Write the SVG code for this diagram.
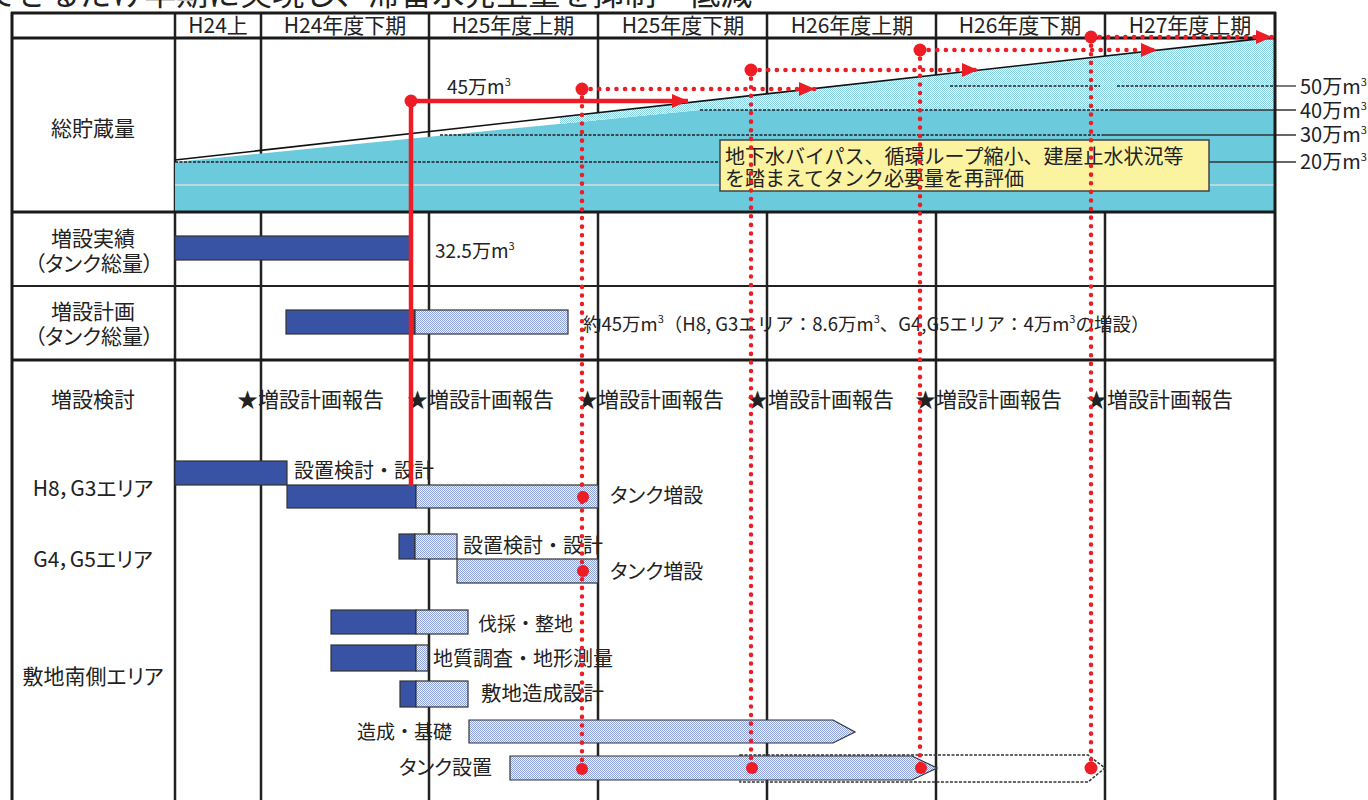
<svg xmlns="http://www.w3.org/2000/svg" width="1368" height="800" viewBox="0 0 1368 800">
<defs>
<pattern id="hatch" patternUnits="userSpaceOnUse" width="2" height="2">
<rect width="2" height="2" fill="#F0F3FA"/>
<rect width="1" height="1" fill="#8DA1D8"/>
<rect x="1" y="1" width="1" height="1" fill="#8DA1D8"/>
</pattern>
<pattern id="chatch" patternUnits="userSpaceOnUse" width="2" height="2">
<rect width="2" height="2" fill="#F2FBFD"/>
<rect width="1" height="1" fill="#86D2E2"/>
<rect x="1" y="1" width="1" height="1" fill="#86D2E2"/>
</pattern>
<marker id="arr" markerUnits="userSpaceOnUse" markerWidth="16" markerHeight="14" refX="16" refY="7" orient="auto" viewBox="0 0 16 14">
<path d="M0,0 L16,7 L0,14 z" fill="#EE1C25"/>
</marker>
<style>
text{font-family:"Noto Sans CJK JP","Noto Sans",sans-serif;fill:#222;}
.p{font-feature-settings:"palt";}
.hd{font-size:21px;text-anchor:middle;}
.lb{font-size:21px;text-anchor:middle;font-feature-settings:"palt";}
.t{font-size:20px;}
.st{font-size:21px;}
.s{font-size:19px;}
.r{font-size:20px;}
.sup{font-size:11px;}
.grid{stroke:#222;stroke-width:2.5;fill:none;}
.bd{stroke:#1a1a1a;stroke-width:3;fill:none;}
.dk{fill:#3953A4;stroke:#333;stroke-width:1.2;}
.ht{fill:url(#hatch);stroke:#333;stroke-width:1.2;}
.dash{stroke:#222;stroke-width:1.6;stroke-dasharray:3 1.5;fill:none;}
.thin{stroke:#333;stroke-width:1.3;fill:none;}
.red{stroke:#EE1C25;stroke-width:4.5;fill:none;}
.rdot{stroke:#EE1C25;stroke-width:4.5;fill:none;stroke-dasharray:0.1 8.5;stroke-linecap:round;}
.dot{fill:#EE1C25;}
</style>
</defs>
<rect width="1368" height="800" fill="#fff"/>
<text x="-15" y="5" style="font-size:32px;">できるだけ早期に実現し、滞留水発生量を抑制・低減</text>

<g id="grid-columns">
<line class="grid" x1="175" y1="13" x2="175" y2="800"/>
<line class="grid" x1="261" y1="13" x2="261" y2="800"/>
<line class="grid" x1="429" y1="13" x2="429" y2="800"/>
<line class="grid" x1="598" y1="13" x2="598" y2="800"/>
<line class="grid" x1="767" y1="13" x2="767" y2="800"/>
<line class="grid" x1="936" y1="13" x2="936" y2="800"/>
<line class="grid" x1="1105" y1="13" x2="1105" y2="800"/>
</g>

<g id="storage-chart">
<polygon points="175,162 700,110 1275,110 1275,211 175,211" fill="#6BCADC"/>
<polygon points="560,117 1275,37 1275,110 700,110 560,124" fill="url(#chatch)"/>
<line x1="175" y1="185" x2="1275" y2="185" stroke="#d8dcdc" stroke-width="1.5"/>
<line class="dash" x1="175" y1="162" x2="720" y2="162"/>
<line class="thin" x1="1209" y1="162" x2="1296" y2="162"/>
<line class="dash" x1="440" y1="135" x2="1103" y2="135"/>
<line class="thin" x1="1103" y1="135" x2="1296" y2="135"/>
<line class="dash" x1="700" y1="110" x2="1110" y2="110"/>
<line class="thin" x1="1110" y1="110" x2="1296" y2="110"/>
<line class="dash" x1="950" y1="86" x2="1100" y2="86"/>
<line class="dash" x1="1117" y1="86" x2="1275" y2="86"/>
<line class="thin" x1="1275" y1="86" x2="1296" y2="86"/>
<line x1="175" y1="160" x2="1275" y2="37" stroke="#111" stroke-width="1.6"/>
</g>

<g id="grid-rows">
<line class="bd" x1="11" y1="13" x2="1276" y2="13"/>
<line class="bd" x1="11" y1="38" x2="1276" y2="38"/>
<line class="bd" x1="11" y1="212" x2="1276" y2="212"/>
<line x1="11" y1="286" x2="1276" y2="286" stroke="#222" stroke-width="2"/>
<line class="bd" x1="11" y1="360" x2="1276" y2="360"/>
<line class="bd" x1="12" y1="12" x2="12" y2="800"/>
<line class="bd" x1="1275" y1="12" x2="1275" y2="800"/>
</g>

<g id="header">
<text class="hd" x="218" y="33">H24上</text>
<text class="hd" x="345" y="33">H24年度下期</text>
<text class="hd" x="513" y="33">H25年度上期</text>
<text class="hd" x="683" y="33">H25年度下期</text>
<text class="hd" x="852" y="33">H26年度上期</text>
<text class="hd" x="1020" y="33">H26年度下期</text>
<text class="hd" x="1190" y="33">H27年度上期</text>
</g>

<g id="row-labels">
<text class="lb" x="93" y="136">総貯蔵量</text>
<text class="lb" x="93" y="246">増設実績</text>
<text class="lb" x="94" y="271">（タンク総量）</text>
<text class="lb" x="93" y="319">増設計画</text>
<text class="lb" x="94" y="344">（タンク総量）</text>
<text class="lb" x="93" y="407">増設検討</text>
<text class="lb" x="93" y="496">H8，G3エリア</text>
<text class="lb" x="93" y="567">G4，G5エリア</text>
<text class="lb" x="93" y="684">敷地南側エリア</text>
</g>

<g id="scale-labels">
<text class="r" x="1300" y="94">50万m<tspan class="sup" dy="-8">3</tspan></text>
<text class="r" x="1300" y="118">40万m<tspan class="sup" dy="-8">3</tspan></text>
<text class="r" x="1300" y="142">30万m<tspan class="sup" dy="-8">3</tspan></text>
<text class="r" x="1300" y="169">20万m<tspan class="sup" dy="-8">3</tspan></text>
</g>

<g id="callout">
<rect x="720" y="140" width="489" height="51" fill="#FBF3A0" stroke="#444" stroke-width="1.5"/>
<text class="t" x="725" y="164">地下水バイパス、循環ループ縮小、建屋止水状況等</text>
<text class="t" x="725" y="186">を踏まえてタンク必要量を再評価</text>
</g>

<g id="actual-bar">
<rect class="dk" x="175" y="236" width="235" height="24"/>
<text class="s" x="435" y="258">32.5万m<tspan class="sup" dy="-8">3</tspan></text>
</g>

<g id="plan-bar">
<rect class="dk" x="286" y="310" width="129" height="24"/>
<rect class="ht" x="415" y="310" width="153" height="24"/>
<text class="s" x="583" y="331" style="font-size:18.5px;">約45万m<tspan class="sup" dy="-8">3</tspan><tspan dy="8">（H8, G3エリア：8.6万m</tspan><tspan class="sup" dy="-8">3</tspan><tspan dy="8">、G4,G5エリア：4万m</tspan><tspan class="sup" dy="-8">3</tspan><tspan dy="8">の増設）</tspan></text>
</g>

<g id="reports">
<text class="st" x="237" y="407">★増設計画報告</text>
<text class="st" x="407" y="407">★増設計画報告</text>
<text class="st" x="577" y="407">★増設計画報告</text>
<text class="st" x="747" y="407">★増設計画報告</text>
<text class="st" x="915" y="407">★増設計画報告</text>
<text class="st" x="1086" y="407">★増設計画報告</text>
</g>

<g id="h8-g3">
<rect class="dk" x="175" y="461" width="112" height="24"/>
<text class="t" x="294" y="478">設置検討・設計</text>
<rect class="dk" x="287" y="485" width="129" height="23"/>
<rect class="ht" x="416" y="485" width="182" height="23"/>
<text class="t p" x="610" y="503">タンク増設</text>
</g>

<g id="g4-g5">
<rect class="dk" x="399" y="534" width="16" height="25"/>
<rect class="ht" x="415" y="534" width="42" height="25"/>
<text class="t" x="463" y="553">設置検討・設計</text>
<rect class="ht" x="457" y="559" width="141" height="24"/>
<text class="t p" x="610" y="579">タンク増設</text>
</g>

<g id="south-area">
<rect class="dk" x="331" y="610" width="85" height="24"/>
<rect class="ht" x="416" y="610" width="52" height="24"/>
<text class="t" x="478" y="631" style="font-size:19px;">伐採・整地</text>
<rect class="dk" x="331" y="645" width="85" height="26"/>
<rect class="ht" x="416" y="645" width="12" height="26"/>
<text class="t" x="433" y="666">地質調査・地形測量</text>
<rect class="dk" x="400" y="681" width="16" height="26"/>
<rect class="ht" x="416" y="681" width="52" height="26"/>
<text class="t" x="481" y="701" style="font-size:20.5px;">敷地造成設計</text>
<polygon class="ht" points="469,720 833,720 855,732 833,743 469,743"/>
<text class="t" x="452" y="739" text-anchor="end" style="font-size:19px;">造成・基礎</text>
<polygon points="740,755 1088,755 1105,768 1088,782 740,782" fill="none" stroke="#333" stroke-width="1.5" stroke-dasharray="3 1.5"/>
<polygon class="ht" points="510,756 912,756 937,768 912,780 510,780"/>
<text class="t p" x="492" y="775" text-anchor="end">タンク設置</text>
</g>

<g id="connectors">
<text class="s" x="447" y="94">45万m<tspan class="sup" dy="-8">3</tspan></text>
<line class="red" x1="411" y1="101" x2="411" y2="486"/>
<line class="red" x1="411" y1="101" x2="688" y2="101" marker-end="url(#arr)"/>
<circle class="dot" cx="411" cy="101" r="6.5"/>
<line class="rdot" x1="582" y1="89" x2="582" y2="770"/>
<line class="rdot" x1="582" y1="89" x2="815" y2="89" marker-end="url(#arr)"/>
<circle class="dot" cx="582" cy="89" r="6.5"/>
<circle class="dot" cx="583" cy="497" r="6"/>
<circle class="dot" cx="583" cy="571" r="6"/>
<circle class="dot" cx="582" cy="769" r="6"/>
<line class="rdot" x1="751" y1="70" x2="751" y2="768"/>
<line class="rdot" x1="751" y1="70" x2="978" y2="70" marker-end="url(#arr)"/>
<circle class="dot" cx="751" cy="70" r="6.5"/>
<circle class="dot" cx="752" cy="768" r="6"/>
<line class="rdot" x1="920" y1="50" x2="920" y2="768"/>
<line class="rdot" x1="920" y1="50" x2="1157" y2="50" marker-end="url(#arr)"/>
<circle class="dot" cx="920" cy="50" r="6.5"/>
<circle class="dot" cx="921" cy="768" r="6"/>
<line class="rdot" x1="1091" y1="37" x2="1091" y2="768"/>
<line class="rdot" x1="1091" y1="37" x2="1272" y2="37" marker-end="url(#arr)"/>
<circle class="dot" cx="1091" cy="37" r="6.5"/>
<circle class="dot" cx="1091" cy="768" r="6.5"/>
</g>
</svg>
